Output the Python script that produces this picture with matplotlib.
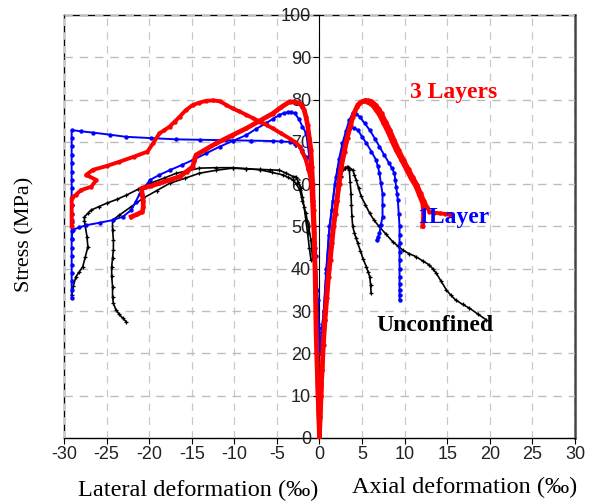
import matplotlib
matplotlib.use("Agg")
import matplotlib.pyplot as plt

plt.rcParams['axes.unicode_minus'] = False

# ---- data (deformation in per mille, stress in MPa) ----
# lateral side (negative x)
red_lat1_x = [0, -0.1, -0.2, -0.3, -0.4, -0.5, -0.6, -0.8, -1.0, -1.3, -1.6, -2.0, -2.3, -2.9, -3.5, -4.5,
              -5.5, -6.2, -7.0, -7.8, -8.6, -9.4, -10.2, -11.0, -11.7, -12.5, -13.3, -14.1, -14.9, -15.7,
              -16.4, -17.0, -17.6, -18.2, -18.8, -19.5, -20.2, -21.8, -23.5, -25.0, -26.6, -27.4, -26.2,
              -26.8, -28.0, -28.6, -29.1, -29.1, -29.1, -29.1, -29.1]
red_lat1_y = [0, 5, 10, 20, 29.5, 37, 45, 53, 61, 63.5, 65.7, 67.5, 68.9, 70, 70.8, 72,
              73.2, 74, 74.8, 75.6, 76.4, 77.2, 77.9, 78.8, 79.6, 79.8, 79.7, 79.3, 78.7, 77.5,
              76, 74.8, 73.6, 72.8, 72, 69.8, 67.7, 66.5, 65.3, 64.3, 63.4, 62.2, 61,
              59.4, 58.6, 57.5, 56.7, 55, 53, 51.5, 50]
red_lat2_x = [0, -0.1, -0.2, -0.3, -0.4, -0.5, -0.6, -0.7, -0.8, -0.9, -1.0, -1.2, -1.4, -1.6, -1.8,
              -2.0, -2.3, -2.9, -3.5, -4.5, -5.5, -7.0, -8.6, -10.3, -12.1, -13.3, -14.5, -14.7, -14.9,
              -15.6, -16.4, -17.6, -18.8, -19.8, -20.9, -20.8, -20.7, -20.7, -20.8, -21.4, -22.1]
red_lat2_y = [0, 6, 12, 18, 25, 37, 48.5, 54, 60, 64, 68, 71, 74, 76, 77.5,
              78.3, 79.1, 79.4, 79.5, 78.2, 76.7, 75.0, 73.2, 71.5, 69.7, 68.3, 66.9, 65.5, 64.1,
              63.0, 61.8, 61.0, 60.2, 59.6, 59, 57.5, 56, 54.5, 53.5, 52.9, 52.3]
blue_lat1_x = [0, -0.15, -0.3, -0.45, -0.6, -0.8, -1.0, -1.3, -1.6, -2.0, -2.3, -2.9, -3.5, -4.5, -5.5,
               -8.0, -11, -14.0, -16.8, -19.8, -22.7, -24.6, -26.6, -28.0, -29.1,
               -29.1, -29.1, -29.1, -29.1, -29.1, -29.1, -29.1, -29.1, -29.1, -29.1, -29.1, -29.1,
               -29.1, -29.1, -29.1, -29.1, -29.1, -29.1, -29.1, -29.1]
blue_lat1_y = [20, 27, 35, 43, 50, 55, 60, 63.5, 66.5, 68, 68.9, 69.5, 70.0, 70.1, 70.2,
               70.3, 70.4, 70.5, 70.6, 70.9, 71.2, 71.7, 72.2, 72.5, 72.8,
               71, 69, 67, 65, 63, 61, 59, 57, 55, 53, 51, 49,
               47, 45, 43, 41, 39, 37, 35, 33]
blue_lat2_x = [0, -0.1, -0.2, -0.5, -0.8, -1.0, -1.2, -1.56, -2.0, -2.4, -2.9, -3.3, -3.7, -4.2, -4.7,
               -5.5, -6.3, -7.5, -8.6, -10.2, -11.7, -13.3, -14.9, -16.2, -17.6, -18.8, -19.9, -20.5,
               -21.1, -21.6, -22.1, -23.1, -24.3, -25.8, -27.4, -28.2, -29.0, -29.1]
blue_lat2_y = [20, 26, 32.6, 45, 56, 62, 66.5, 72, 73.6, 75.3, 76.8, 77.0, 77.0, 76.8, 76.4,
               75.4, 74.4, 73.0, 71.6, 70.2, 68.9, 67.3, 65.7, 64.5, 63.3, 62.2, 61.0, 59.4,
               57.8, 55.8, 53.9, 52.3, 51.5, 50.9, 50.3, 49.8, 49.2, 47]
black_lat1_x = [-0.8, -0.9, -1.0, -1.3, -1.6, -2.0, -2.3, -2.7, -3.1, -3.7, -4.3, -5.6, -7.0, -8.6,
                -10.2, -12.1, -14.1, -15.4, -16.8, -18.3, -19.9, -21.3, -22.7, -23.8, -25.0, -25.9,
                -26.8, -27.2, -27.6, -27.6, -27.5, -27.3, -27.2, -27.5, -27.8, -28.2, -28.6, -28.9, -29.1]
black_lat1_y = [42.1, 44.5, 46.8, 50, 53.1, 56, 58.6, 60, 61.0, 61.6, 62.2, 62.8, 63.4, 63.7,
                63.9, 63.9, 63.8, 63.2, 62.6, 61.4, 60.2, 58.8, 57.4, 56.4, 55.5, 54.7,
                53.9, 53.1, 52.3, 51.2, 50, 47.6, 45.2, 42.8, 40.5, 39.3, 38.1, 36, 33.8]
black_lat2_x = [-1.0, -1.2, -1.4, -1.6, -1.8, -2.0, -2.2, -2.5, -2.8, -3.1, -3.9, -4.7, -5.8, -7.0,
                -8.6, -10.2, -12.1, -14.1, -15.8, -17.6, -19.1, -20.7, -22.1, -23.5, -24.3, -24.3,
                -24.2, -24.2, -24.3, -24.4, -24.4, -24.3, -24.3, -24.2, -23.9, -23.5, -23.1, -22.7]
black_lat2_y = [42.1, 45, 48.5, 51.5, 54.5, 57, 59, 60.5, 61.8, 61.8, 62.6, 63.3, 63.4, 63.5,
                63.6, 63.8, 63.3, 62.6, 61.4, 60.2, 58.5, 56.7, 54.7, 52.7, 51.5, 49.2,
                46.8, 44.5, 42.5, 40.5, 38.2, 35.8, 33.4, 31.8, 30.3, 29.2, 28.3, 27.5]

# axial side (positive x)
red_ax1_x = [0, 0.1, 0.2, 0.3, 0.4, 0.6, 0.8, 1.0, 1.2, 1.4, 1.6, 1.8, 2.0, 2.25, 2.5, 2.8, 3.1, 3.5,
             3.9, 4.2, 4.5, 4.8, 5.1, 5.6, 6.3, 6.6, 7.0, 7.5, 8.0, 8.5, 9.0, 9.6, 10.2, 10.7, 11.3,
             11.7, 12.1, 12.2, 12.2, 12.1]
red_ax1_y = [0, 5, 10, 16, 22, 28, 33, 38, 42, 46, 50, 53, 56, 60, 64, 67, 70, 73,
             76, 77.5, 78.8, 79.3, 79.6, 79.5, 78.5, 77.6, 76.5, 74.5, 72.5, 70.2, 68, 65.8, 63.5, 61.5, 59.5,
             57.5, 55.5, 54, 52, 50]
red_ax2_x = [0, 0.1, 0.2, 0.35, 0.5, 0.7, 0.9, 1.1, 1.3, 1.5, 1.7, 1.9, 2.1, 2.35, 2.6, 2.95, 3.3,
             3.7, 4.1, 4.45, 4.8, 5.1, 5.4, 5.7, 6.0, 6.3, 6.6, 7.0, 7.3, 7.8, 8.3, 8.8, 9.3, 9.9,
             10.5, 11.0, 11.5, 11.9, 12.3, 12.6, 12.9, 13.5, 14.1, 14.7, 15.3]
red_ax2_y = [0, 5, 10, 16, 22, 28, 33, 38, 42, 46, 50, 53, 56, 60, 64, 67.5, 71,
             74, 77, 78.3, 79.4, 79.7, 79.9, 79.8, 79.7, 79.3, 78.8, 77.8, 76.8, 74.8, 72.8, 70.5, 68.2, 65.8,
             63.5, 61.6, 59.8, 57.9, 56.0, 54.7, 53.5, 53.3, 53.1, 53.0, 52.8]
blue_ax1_x = [0, 0.25, 0.5, 0.8, 1.17, 1.55, 1.95, 2.3, 2.7, 3.1, 3.5, 3.9, 4.3, 4.7, 5.3, 5.9, 6.5,
              7.04, 7.6, 8.2, 8.5, 8.8, 8.9, 9.0, 9.1, 9.2, 9.3, 9.4, 9.4, 9.4, 9.4, 9.4, 9.4, 9.4,
              9.4, 9.4, 9.4, 9.4]
blue_ax1_y = [20, 25, 30, 40, 50, 56, 61.8, 66, 69.7, 72.5, 75.2, 76.8, 76.6, 76, 74.4, 72.8, 70.8,
              68.9, 66.9, 64.9, 63.8, 62.6, 61, 59.4, 57.8, 56.3, 53, 50, 48, 46, 44, 42, 40, 38,
              36.5, 35, 33.8, 32.6]
blue_ax2_x = [0, 0.25, 0.5, 0.8, 1.1, 1.45, 1.8, 2.15, 2.5, 3.0, 3.5, 4.0, 4.5, 5.0, 5.5, 6.1, 6.65,
              6.85, 7.04, 7.2, 7.4, 7.4, 7.4, 7.2, 7.04, 6.9, 6.7]
blue_ax2_y = [20, 25, 30, 39, 48, 54, 60, 63.5, 67, 71, 73.2, 73.3, 72.8, 71.2, 69.7, 67.7, 65.7,
              64.2, 62.6, 60.2, 57.8, 55, 52.3, 50.3, 48.4, 47.6, 46.8]
black_ax1_x = [2.3, 2.5, 2.7, 3.0, 3.2, 3.5, 3.9, 4.1, 4.3, 4.6, 4.9, 5.4, 5.9, 6.4, 7.0, 7.8, 8.6,
               9.2, 9.8, 10.5, 11.3, 12.1, 12.9, 13.3, 13.7, 14.3, 14.9, 15.4, 16.0, 16.8, 17.6,
               18.6, 19.6]
black_ax1_y = [60, 61.8, 63.4, 63.9, 64, 63.8, 63.4, 62.2, 61, 59, 57.1, 55.1, 53.1, 51.5, 50, 48.2, 46.4,
               45.4, 44.4, 43.6, 42.9, 41.9, 40.9, 40, 39, 37, 35, 33.8, 32.6, 31.6, 30.7,
               29.3, 27.9]
black_ax2_x = [2.3, 2.5, 2.8, 3.0, 3.3, 3.5, 3.6, 3.7, 3.75, 3.8, 3.9, 4.1, 4.3, 4.5, 4.8, 5.1, 5.5,
               5.7, 5.9, 6.0, 6.06]
black_ax2_y = [60, 62, 63.5, 63.9, 64, 63.4, 60.5, 57.8, 55, 52.5, 50, 48.5, 47.2, 46, 44.3, 42.4, 40.5,
               39.3, 38.1, 36.2, 34.2]

xticks = list(range(-30, 31, 5))
yticks = list(range(0, 101, 10))

# ---- figure ----
fig = plt.figure(figsize=(5.95, 5.04), dpi=100)
pos = [64 / 595, 66 / 504, 511 / 595, 423 / 504]

# frame axes (box around the plot)
frame = fig.add_axes(pos)
frame.set_xticks([])
frame.set_yticks([])
for s in frame.spines.values():
    s.set_linewidth(1.0)
frame.spines['right'].set_color('#444444')
frame.spines['right'].set_linewidth(1.8)

ax = fig.add_axes(pos, facecolor='none')
ax.set_xlim(-30, 30)
ax.set_ylim(0, 100)

# grid
for xv in xticks:
    ax.axvline(xv, color='#c8c8c8', lw=0.9, ls=(0, (6, 5)), zorder=0)
for yv in yticks:
    ax.axhline(yv, color='#bdbdbd', lw=1.0, ls=(0, (6, 5)), zorder=0)

# curves
def draw(x, y, color, marker, lw, ms, z):
    ax.plot(x, y, color=color, lw=lw, marker=marker, ms=ms, mew=0.9, zorder=z)

for bx, by in [(black_lat1_x, black_lat1_y), (black_lat2_x, black_lat2_y),
               (black_ax1_x, black_ax1_y), (black_ax2_x, black_ax2_y)]:
    draw(bx, by, 'black', '+', 1.2, 3.5, 2)

for bx, by in [(blue_lat1_x, blue_lat1_y), (blue_lat2_x, blue_lat2_y),
               (blue_ax1_x, blue_ax1_y), (blue_ax2_x, blue_ax2_y)]:
    draw(bx, by, '#0000ff', '.', 1.4, 4.5, 3)

draw(red_lat1_x, red_lat1_y, '#ff0000', '.', 2.8, 4.5, 4)
draw(red_lat2_x, red_lat2_y, '#ff0000', '.', 3.4, 4.5, 4)
draw(red_ax1_x, red_ax1_y, '#ff0000', '.', 3.2, 4.5, 4)
draw(red_ax2_x, red_ax2_y, '#ff0000', '.', 2.8, 4.5, 4)

# axes: y axis in the middle (x = 0)
ax.spines['left'].set_position(('data', 0))
ax.spines['right'].set_visible(False)
ax.spines['top'].set_visible(False)
ax.spines['bottom'].set_visible(False)
ax.set_xticks(xticks)
ax.set_xticklabels([str(v) for v in xticks])
ax.set_yticks(yticks)
ax.set_yticklabels([str(v) for v in yticks])
ax.tick_params(axis='both', direction='out', length=4, width=0.8,
               labelsize=13, labelcolor='#222222', pad=2)
for lab in ax.get_xticklabels() + ax.get_yticklabels():
    lab.set_fontfamily('Liberation Sans')

serif = 'Liberation Serif'
fig.text(198 / 595, 1 - 490 / 504, 'Lateral deformation (‰)', ha='center', va='center',
         fontsize=17.5, family=serif)
fig.text(465 / 595, 1 - 487 / 504, 'Axial deformation (‰)', ha='center', va='center',
         fontsize=17.5, family=serif)
fig.text(25 / 595, 1 - 234 / 504, 'Stress (MPa)', ha='center', va='center', rotation=90,
         fontsize=16, family=serif)

ax.text(10.6, 81.6, '3 Layers', color='#ff0000', fontsize=17, fontweight='bold',
        family=serif, va='center', ha='left', zorder=6)
ax.text(11.5, 52.2, '1Layer', color='#0000ff', fontsize=17, fontweight='bold',
        family=serif, va='center', ha='left', zorder=6)
ax.text(6.7, 26.7, 'Unconfined', color='black', fontsize=17, fontweight='bold',
        family=serif, va='center', ha='left', zorder=6)

fig.savefig('out.png', dpi=100)
